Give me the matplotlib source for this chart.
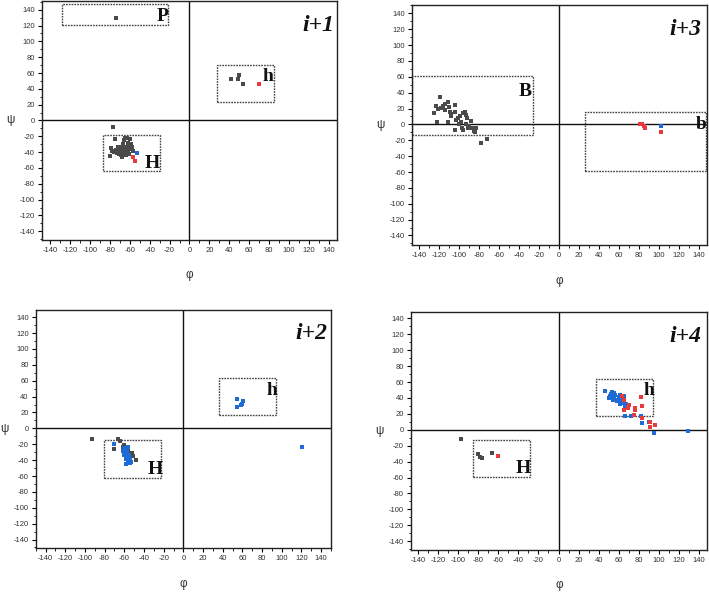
import matplotlib
matplotlib.use("Agg")
import matplotlib.pyplot as plt
from matplotlib.patches import Rectangle
from matplotlib.ticker import MultipleLocator

plt.rcParams['axes.unicode_minus'] = False
plt.rcParams['font.family'] = ['Liberation Sans', 'DejaVu Sans']

# ---------------- data ----------------
# panel i+1
p1_gray_phi = [-74, 42, 49, 50, 54, -77,
               -80, -79, -78, -76, -75, -74, -72, -71, -70, -69, -68, -67, -66, -65, -64,
               -66, -65, -63, -62, -61, -63, -61, -60, -59, -58, -57, -60, -67, -69, -72,
               -64, -62, -73, -70, -68]
p1_gray_psi = [130, 52, 53, 57, 46, -8,
               -45, -35, -38, -40, -23, -37, -38, -42, -40, -44, -46, -41, -38, -36, -34,
               -25, -22, -22, -28, -32, -38, -42, -36, -30, -34, -38, -24, -30, -35, -33,
               -44, -40, -41, -36, -33]
p1_red_phi = [70, -57, -55]
p1_red_psi = [46, -46, -51]
p1_blue_phi = [-53]
p1_blue_psi = [-41]

# panel i+3
p2_gray_phi = [-119, -125, -123, -122, -121, -118, -116, -114, -111, -110, -109, -111, -108,
               -104, -104, -104, -101, -103, -99, -98, -97, -96, -96, -94, -93, -92, -93,
               -90, -88, -87, -85, -83, -84, -78, -72, -100, -108, -114, -91]
p2_gray_psi = [35, 14, 23, 3, 20, 21, 23, 18, 28, 22, 16, 3, 13,
               24, 16, -7, 8, 5, 10, 3, -4, -7, 15, 16, 12, 8, 1,
               -2, 4, -5, -8, -4, -10, -23, -18, 0, 10, 26, -5]
p2_red_phi = [81, 83, 85, 86, 102]
p2_red_psi = [1, 0, -2, -5, -9]
p2_blue_phi = [102]
p2_blue_psi = [-2]

# panel i+2
p3_gray_phi = [-93, -70, -66, -64, -61, -60, -56, -54, -51, -48, -54, -52]
p3_gray_psi = [-14, -26, -13, -16, -24, -21, -26, -31, -35, -40, -36, -31]
p3_blue_phi = [-70, -61, -60, -58, -57, -55, -58, -53, -59, -56, -55, -57, -54, -56, -60,
               -58, -54, 55, 55, 59, 61, 60, 121]
p3_blue_psi = [-20, -29, -25, -31, -36, -39, -45, -42, -26, -23, -34, -29, -38, -42, -34,
               -38, -44, 37, 27, 29, 34, 31, -23]

# panel i+4
p4_gray_phi = [-97, -80, -78, -76, -66]
p4_gray_psi = [-12, -30, -34, -36, -29]
p4_red_phi = [-60, 63, 65, 70, 76, 76, 65, 82, 83, 83, 91, 96, 91, 75, 69]
p4_red_psi = [-33, 43, 38, 31, 28, 25, 25, 41, 30, 15, 10, 6, 3, 19, 28]
p4_blue_phi = [46, 53, 51, 54, 56, 60, 55, 63, 61, 66, 66, 65, 58, 50, 56, 60, 63, 67, 68,
               66, 72, 83, 90, 95, 129, 82, 52, 55, 61, 65]
p4_blue_psi = [49, 47, 42, 38, 44, 41, 41, 38, 33, 33, 29, 42, 36, 40, 38, 37, 34, 33, 27,
               18, 18, 9, 10, -4, -2, 18, 45, 46, 44, 37]

ticks = list(range(-140, 141, 20))

GRAY = '#4a4a4a'
RED = '#e8393c'
BLUE = '#1f6bd6'

fig = plt.figure(figsize=(7.09, 5.93), dpi=100)

panels = [
    dict(pos=[0.0592, 0.5953, 0.4161, 0.4030], xlim=(-148, 148), ylim=(-151, 151),
         label='i+1', lab_xy=(129, 120),
         series=[(p1_gray_phi, p1_gray_psi, GRAY), (p1_red_phi, p1_red_psi, RED),
                 (p1_blue_phi, p1_blue_psi, BLUE)],
         boxes=[(-128, 121, -22, 147, 'P', -27, 131), (28, 24, 85, 70, 'h', 79, 55),
                (-87, -64, -30, -18, 'H', -37, -54)]),
    dict(pos=[0.5811, 0.5869, 0.4161, 0.4052], xlim=(-147, 148), ylim=(-152, 151),
         label='i+3', lab_xy=(126, 120),
         series=[(p2_gray_phi, p2_gray_psi, GRAY), (p2_red_phi, p2_red_psi, RED),
                 (p2_blue_phi, p2_blue_psi, BLUE)],
         boxes=[(-147, -13, -26, 61, 'B', -34, 42), (26, -59, 147, 16, 'b', 142, 0)]),
    dict(pos=[0.0503, 0.0754, 0.4166, 0.4018], xlim=(-150, 150), ylim=(-151, 149),
         label='i+2', lab_xy=(130, 120),
         series=[(p3_gray_phi, p3_gray_psi, GRAY), (p3_blue_phi, p3_blue_psi, BLUE)],
         boxes=[(36, 17, 94, 63, 'h', 90, 48), (-81, -62, -23, -15, 'H', -29, -52)]),
    dict(pos=[0.5793, 0.0725, 0.4183, 0.4013], xlim=(-147, 148), ylim=(-151, 148),
         label='i+4', lab_xy=(126, 117),
         series=[(p4_gray_phi, p4_gray_psi, GRAY), (p4_blue_phi, p4_blue_psi, BLUE),
                 (p4_red_phi, p4_red_psi, RED)],
         boxes=[(37, 18, 94, 64, 'h', 90, 49), (-85, -59, -28, -13, 'H', -35, -48)]),
]

for p in panels:
    ax = fig.add_axes(p['pos'])
    ax.set_xlim(*p['xlim'])
    ax.set_ylim(*p['ylim'])
    ax.set_xticks(ticks)
    ax.set_yticks(ticks)
    ax.xaxis.set_minor_locator(MultipleLocator(10))
    ax.yaxis.set_minor_locator(MultipleLocator(10))
    ax.tick_params(which='major', direction='out', length=3, width=0.8,
                   labelsize=5.5, labelcolor='#333333', pad=2)
    ax.tick_params(which='minor', direction='out', length=1.8, width=0.6)
    for s in ax.spines.values():
        s.set_linewidth(1.0)
        s.set_color('#222222')
    ax.axhline(0, color='#111111', lw=1.0, zorder=1)
    ax.axvline(0, color='#111111', lw=1.0, zorder=1)
    for (x0, y0, x1, y1, t, tx, ty) in p['boxes']:
        ax.add_patch(Rectangle((x0, y0), x1 - x0, y1 - y0, fill=False,
                               ls=(0, (1.2, 0.8)), lw=1.0, ec='#444444', zorder=2))
        ax.text(tx, ty, t, fontsize=14, fontweight='bold', family='Liberation Serif',
                ha='center', va='center', color='#111111', zorder=4)
    for xs, ys, c in p['series']:
        ax.scatter(xs, ys, marker='s', s=9, c=c, linewidths=0, zorder=3)
    ax.text(*p['lab_xy'], p['label'], fontsize=17, fontweight='bold', fontstyle='italic',
            family='Liberation Serif', ha='center', va='center', color='#111111')
    ax.text(0.5, -0.148, 'φ', transform=ax.transAxes, ha='center', va='center',
            fontsize=8.5, color='#333333')
    ax.text(-0.106, 0.5, 'ψ', transform=ax.transAxes, ha='center', va='center',
            fontsize=8.5, color='#333333')

fig.savefig('out.png', dpi=100)
